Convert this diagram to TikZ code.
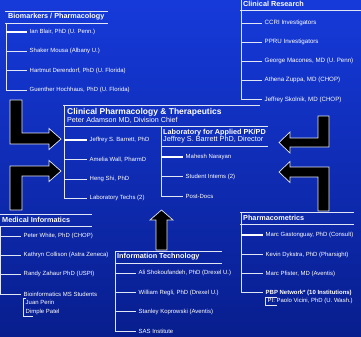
\documentclass[tikz,border=0pt]{standalone}
\usepackage{fontspec}
\setmainfont{Liberation Sans}
\usetikzlibrary{calc}
\definecolor{bgtop}{RGB}{22,58,218}
\definecolor{bgbottom}{RGB}{8,30,142}
\definecolor{rulegray}{RGB}{225,230,245}
\tikzset{item/.style = {anchor=west, inner xsep=2.5bp, inner ysep=0pt, text=white, font=\fontsize{6}{7}\selectfont}}
\tikzset{grouphead/.style = {anchor=west, inner sep=0pt, text=white, font=\bfseries\fontsize{7.3}{8}\selectfont}}
\tikzset{rule/.style = {draw=rulegray, line width=.7bp}}
\tikzset{heavyrule/.style = {draw=white, line width=1.8bp}}
\tikzset{blockarrow/.style = {fill=black, draw=rulegray, line width=.7bp, line join=miter}}

\begin{document}
\begin{tikzpicture}[x=1bp, y=-1bp]
    \shade[top color=bgtop, bottom color=bgbottom] (0,0) rectangle (361,337);
    \useasboundingbox (0,0) rectangle (361,337);

    % Biomarkers / Pharmacology
    \node[grouphead] (biohead) at (8,16.5) {Biomarkers / Pharmacology};
    \draw[rule] (5,11) -- (108,11);
    \draw[rule] (5,23) -- (108,23);
    \coordinate (biospine) at (6,23);
    \foreach \Name/\Y/\Text in {bio1/32/{Ian Blair, PhD (U. Penn.)},
            bio2/51/{Shaker Mousa (Albany U.)},
            bio3/70.5/{Hartmut Derendorf, PhD (U. Florida)},
            bio4/90/{Guenther Hochhaus, PhD (U. Florida)}} {
        \node[item] (\Name) at (27,\Y) {\Text};
        \draw[rule] (biospine |- \Name) -- (\Name.west);
    }
    \draw[rule] (biospine) -- (biospine |- bio4);
    \draw[heavyrule] (biospine |- bio1) -- (bio1.west);

    % Clinical Research
    \node[grouphead] (crhead) at (243,4) {Clinical Research};
    \draw[rule] (240,10) -- (361,10);
    \coordinate (crspine) at (241,0);
    \foreach \Name/\Y/\Text in {cr1/23/{CCRI Investigators},
            cr2/42/{PPRU Investigators},
            cr3/61/{George Macones, MD (U. Penn)},
            cr4/80/{Athena Zuppa, MD (CHOP)},
            cr5/99.5/{Jeffrey Skolnik, MD (CHOP)}} {
        \node[item, font=\fontsize{6.2}{7}\selectfont] (\Name) at (262,\Y) {\Text};
        \draw[rule] (crspine |- \Name) -- (\Name.west);
    }
    \draw[rule] (crspine) -- (crspine |- cr5);

    % Clinical Pharmacology & Therapeutics
    \draw[rule] (63,105.5) -- (260,105.5);
    \node[grouphead, font=\bfseries\fontsize{8.5}{9}\selectfont] (cphead) at (67,112) {Clinical Pharmacology \& Therapeutics};
    \node[grouphead, font=\fontsize{7.2}{8}\selectfont] (cpchief) at (67,120) {Peter Adamson MD, Division Chief};
    \draw[rule] (64,126) -- (268,126);
    \coordinate (cpspine) at (64,105.5);
    \foreach \Name/\Y/\Text in {cp1/140/{Jeffrey S. Barrett, PhD},
            cp2/159.5/{Amelia Wall, PharmD},
            cp3/179/{Heng Shi, PhD},
            cp4/198/{Laboratory Techs (2)}} {
        \node[item] (\Name) at (87,\Y) {\Text};
        \draw[rule] (cpspine |- \Name) -- (\Name.west);
    }
    \draw[rule] (cpspine) -- (cpspine |- cp4);
    \draw[heavyrule] (cpspine |- cp1) -- (cp1.west);

    % Laboratory for Applied PK/PD
    \node[grouphead, font=\bfseries\fontsize{7.3}{8}\selectfont] (labhead) at (163,133) {Laboratory for Applied PK/PD};
    \node[grouphead, font=\fontsize{7.3}{8}\selectfont] (labchief) at (163,140) {Jeffrey S. Barrett PhD, Director};
    \draw[rule] (161,146) -- (268,146);
    \coordinate (labspine) at (161,126);
    \foreach \Name/\Y/\Text in {lab1/157/{Mahesh Narayan},
            lab2/176.5/{Student Interns (2)},
            lab3/196/{Post-Docs}} {
        \node[item] (\Name) at (183,\Y) {\Text};
        \draw[rule] (labspine |- \Name) -- (\Name.west);
    }
    \draw[rule] (labspine) -- (labspine |- lab3);
    \draw[heavyrule] (labspine |- lab1) -- (lab1.west);

    % Medical Informatics
    \draw[rule] (0,214) -- (92,214);
    \node[grouphead] (mihead) at (2,220) {Medical Informatics};
    \draw[rule] (0,226) -- (92,226);
    \coordinate (mispine) at (0.4,226);
    \foreach \Name/\Y/\Text in {mi1/236/{Peter White, PhD (CHOP)},
            mi2/255/{Kathryn Collison (Astra Zeneca)},
            mi3/274/{Randy Zahaur PhD (USPI)},
            mi4/294/{Bioinformatics MS Students}} {
        \node[item] (\Name) at (21,\Y) {\Text};
        \draw[rule] (mispine |- \Name) -- (\Name.west);
    }
    \draw[rule] (mispine) -- (mispine |- mi4);
    \node[item, align=left, inner ysep=1.5bp, font=\fontsize{6}{8.5}\selectfont] (misub) at (23,307.5) {Juan Perin\\Dimple Patel};
    \draw[rule] ($(misub.north west)+(3,0)$) -- (misub.north west) -- (misub.south west) -- ($(misub.south west)+(10,0)$);

    % Information Technology
    \draw[rule] (115,251) -- (222,251);
    \node[grouphead] (ithead) at (117,257) {Information Technology};
    \draw[rule] (115,263) -- (222,263);
    \coordinate (itspine) at (115,251);
    \foreach \Name/\Y/\Text in {it1/273/{Ali Shokoufandeh, PhD (Drexel U.)},
            it2/292.5/{William Regli, PhD (Drexel U.)},
            it3/311.5/{Stanley Koprowski (Aventis)},
            it4/331/{SAS Institute}} {
        \node[item] (\Name) at (136,\Y) {\Text};
        \draw[rule] (itspine |- \Name) -- (\Name.west);
    }
    \draw[rule] (itspine) -- (itspine |- it4);

    % Pharmacometrics
    \draw[rule] (240,212) -- (354,212);
    \node[grouphead] (pmhead) at (243,218) {Pharmacometrics};
    \draw[rule] (240,224) -- (354,224);
    \coordinate (pmspine) at (241,212);
    \foreach \Name/\Y/\Text in {pm1/235/{Marc Gastonguay, PhD (Consult)},
            pm2/254.5/{Kevin Dykstra, PhD (Pharsight)},
            pm3/273.5/{Marc Pfister, MD (Aventis)},
            pm4/292.5/{\textbf{PBP Network* (10 Institutions)}}} {
        \node[item] (\Name) at (263,\Y) {\Text};
        \draw[rule] (pmspine |- \Name) -- (\Name.west);
    }
    \draw[rule] (pmspine) -- (pmspine |- pm4);
    \draw[heavyrule] (pmspine |- pm1) -- (pm1.west);
    \node[item] (pmsub) at (265,300.5) {PI: Paolo Vicini, PhD (U. Wash.)};
    \draw[rule] ($(pmsub.west)+(12,-3.5)$) -- ($(pmsub.west)+(0,-3.5)$) -- ($(pmsub.west)+(0,4.5)$) -- ($(pmsub.west)+(12,4.5)$);

    % block arrows into the division
    \draw[blockarrow] (10,100) -- (22,100) -- (22,133) -- (49,133) -- (49,128.5) -- (61,139) -- (49,149.5) -- (49,144) -- (10,144) -- cycle;
    \draw[blockarrow] (10,210) -- (10,166) -- (49,166) -- (49,160.5) -- (61,171) -- (49,181.5) -- (49,176) -- (22,176) -- (22,210) -- cycle;
    \draw[blockarrow] (329,116) -- (318,116) -- (318,138) -- (290,138) -- (290,132) -- (279,142.5) -- (290,153) -- (290,147) -- (329,147) -- cycle;
    \draw[blockarrow] (329,211) -- (329,167) -- (290,167) -- (290,161.5) -- (279,172) -- (290,182.5) -- (290,177) -- (318,177) -- (318,211) -- cycle;
    \draw[blockarrow] (156,250) -- (156,220) -- (150,220) -- (161.5,210) -- (173,220) -- (167,220) -- (167,250) -- cycle;
\end{tikzpicture}
\end{document}
